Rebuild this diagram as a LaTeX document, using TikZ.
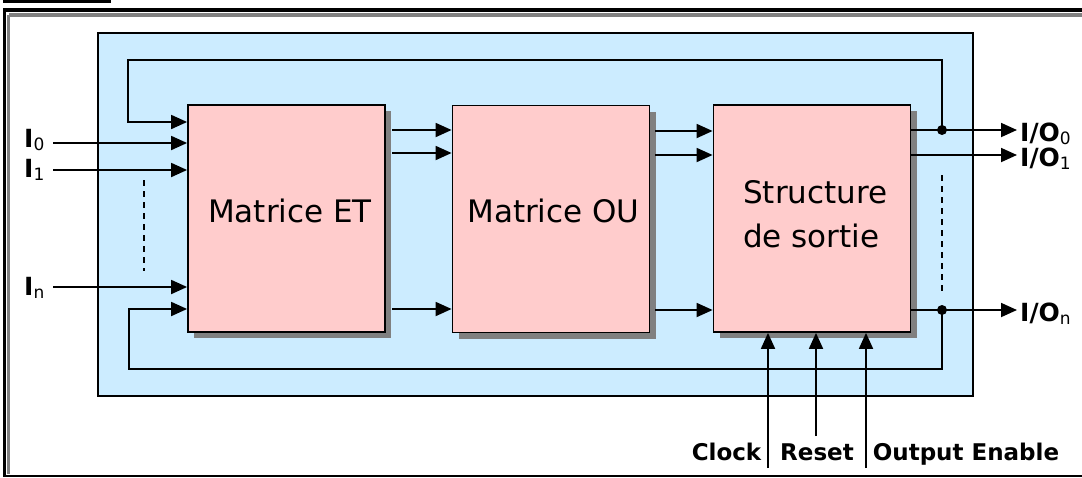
\documentclass[tikz,border=0pt]{standalone}
\usepackage{fontspec}
\setmainfont{DejaVu Sans}
\usetikzlibrary{arrows.meta,shadows}
\definecolor{bluebg}{RGB}{204,236,255}
\definecolor{pinkbox}{RGB}{255,204,204}
\definecolor{shadowgray}{RGB}{128,128,128}
\newcommand\subtxt[1]{\raisebox{-3pt}{\fontsize{17}{17}\selectfont\mdseries #1}}
\begin{document}
\begin{tikzpicture}[x=1pt,y=-1pt,
  wire/.style={line width=1.8pt},
  arr/.style={wire,-{Triangle[length=16pt,width=14pt]}},
  dashline/.style={line width=1.5pt, dash pattern=on 6pt off 5pt},
  blockbox/.style={draw=black, line width=1.8pt, fill=pinkbox, minimum width=197pt,
    minimum height=227pt, inner sep=0pt,
    drop shadow={shadow xshift=6pt, shadow yshift=-6pt, fill=shadowgray, opacity=1}},
  blocktext/.style={font=\fontsize{31}{37}\selectfont, anchor=base, inner sep=0pt},
  lab/.style={font=\fontsize{23}{27}\selectfont\bfseries, inner sep=0pt},
  iolab/.style={font=\fontsize{25}{29}\selectfont\bfseries, inner sep=0pt, anchor=base west},
  dot/.style={circle, fill=black, inner sep=0pt, minimum size=10pt}
]
\useasboundingbox (0,0) rectangle (1082,477);
% outer frame
\draw[line width=3pt] (3,1.5) -- (111,1.5);
\draw[line width=4pt] (3,10) -- (1082,10);
\draw[line width=3pt] (4.5,8) -- (4.5,477);
\draw[shadowgray, line width=3.5pt] (8.5,15) -- (1082,15);
\draw[shadowgray, line width=3.5pt] (8.5,15) -- (8.5,474);
\draw[line width=2pt] (3,475.5) -- (1082,475.5);
% PLD area
\node[draw, fill=bluebg, line width=1.8pt, minimum width=875pt, minimum height=363pt, inner sep=0pt] (pld) at (535.5,214.5) {};
% blocks
\node[blockbox] (ET) at (286.5,218.5) {};
\node[blockbox] (OU) at (551,219) {};
\node[blockbox] (ST) at (812,218.5) {};
\node[blocktext] (etlab) at (290,222) {Matrice ET};
\node[blocktext] (oulab) at (553.5,222) {Matrice OU};
\node[blocktext, anchor=base west] (stlab1) at (743,203) {Structure};
\node[blocktext, anchor=base west] (stlab2) at (743,247) {de sortie};
% output nodes
\node[dot] (d0) at (942,130) {};
\node[dot] (dn) at (942,310) {};
\coordinate (io0) at (1017,130);
\coordinate (io1) at (1017,155);
\coordinate (ion) at (1017,310);
\draw[arr] (d0 -| ST.east) -- (io0);
\draw[arr] (io1 -| ST.east) -- (io1);
\draw[arr] (dn -| ST.east) -- (ion);
\draw[dashline] (942,175) -- (942,293);
% feedback loops
\coordinate (fbT) at (128,122);
\coordinate (fbB) at (129,309);
\draw[arr] (d0.center) |- (128,60) -- (fbT) -- (fbT -| ET.west);
\draw[arr] (dn.center) |- (129,369) -- (fbB) -- (fbB -| ET.west);
% inputs
\coordinate (i0) at (53,143);
\coordinate (i1) at (53,170);
\coordinate (in) at (53,287);
\draw[arr] (i0) -- (i0 -| ET.west);
\draw[arr] (i1) -- (i1 -| ET.west);
\draw[arr] (in) -- (in -| ET.west);
\draw[dashline] (144,180) -- (144,271);
% ET -> OU
\coordinate (e1) at (392,130);
\coordinate (e2) at (392,153);
\coordinate (e3) at (392,309);
\draw[arr] (e1) -- (e1 -| OU.west);
\draw[arr] (e2) -- (e2 -| OU.west);
\draw[arr] (e3) -- (e3 -| OU.west);
% OU -> ST
\coordinate (o1) at (655,131);
\coordinate (o2) at (655,155);
\coordinate (o3) at (655,310);
\draw[arr] (o1) -- (o1 -| ST.west);
\draw[arr] (o2) -- (o2 -| ST.west);
\draw[arr] (o3) -- (o3 -| ST.west);
% control inputs
\coordinate (clk) at (768,468);
\coordinate (rst) at (816,436);
\coordinate (oe) at (866,468);
\draw[arr] (clk) -- (clk |- ST.south);
\draw[arr] (rst) -- (rst |- ST.south);
\draw[arr] (oe) -- (oe |- ST.south);
% labels
\node[iolab] (I0lab) at (24,147) {I\subtxt{0}};
\node[iolab] (I1lab) at (24,177) {I\subtxt{1}};
\node[iolab] (Inlab) at (24,295) {I\subtxt{n}};
\node[iolab] (IO0lab) at (1020,141) {I/O\subtxt{0}};
\node[iolab] (IO1lab) at (1020,166) {I/O\subtxt{1}};
\node[iolab] (IOnlab) at (1020,321) {I/O\subtxt{n}};
\node[lab, anchor=base] (clklab) at (726.5,460) {Clock};
\node[lab, anchor=base] (rstlab) at (817,460) {Reset};
\node[lab, anchor=base] (oelab) at (966,460) {Output Enable};
\end{tikzpicture}
\end{document}
